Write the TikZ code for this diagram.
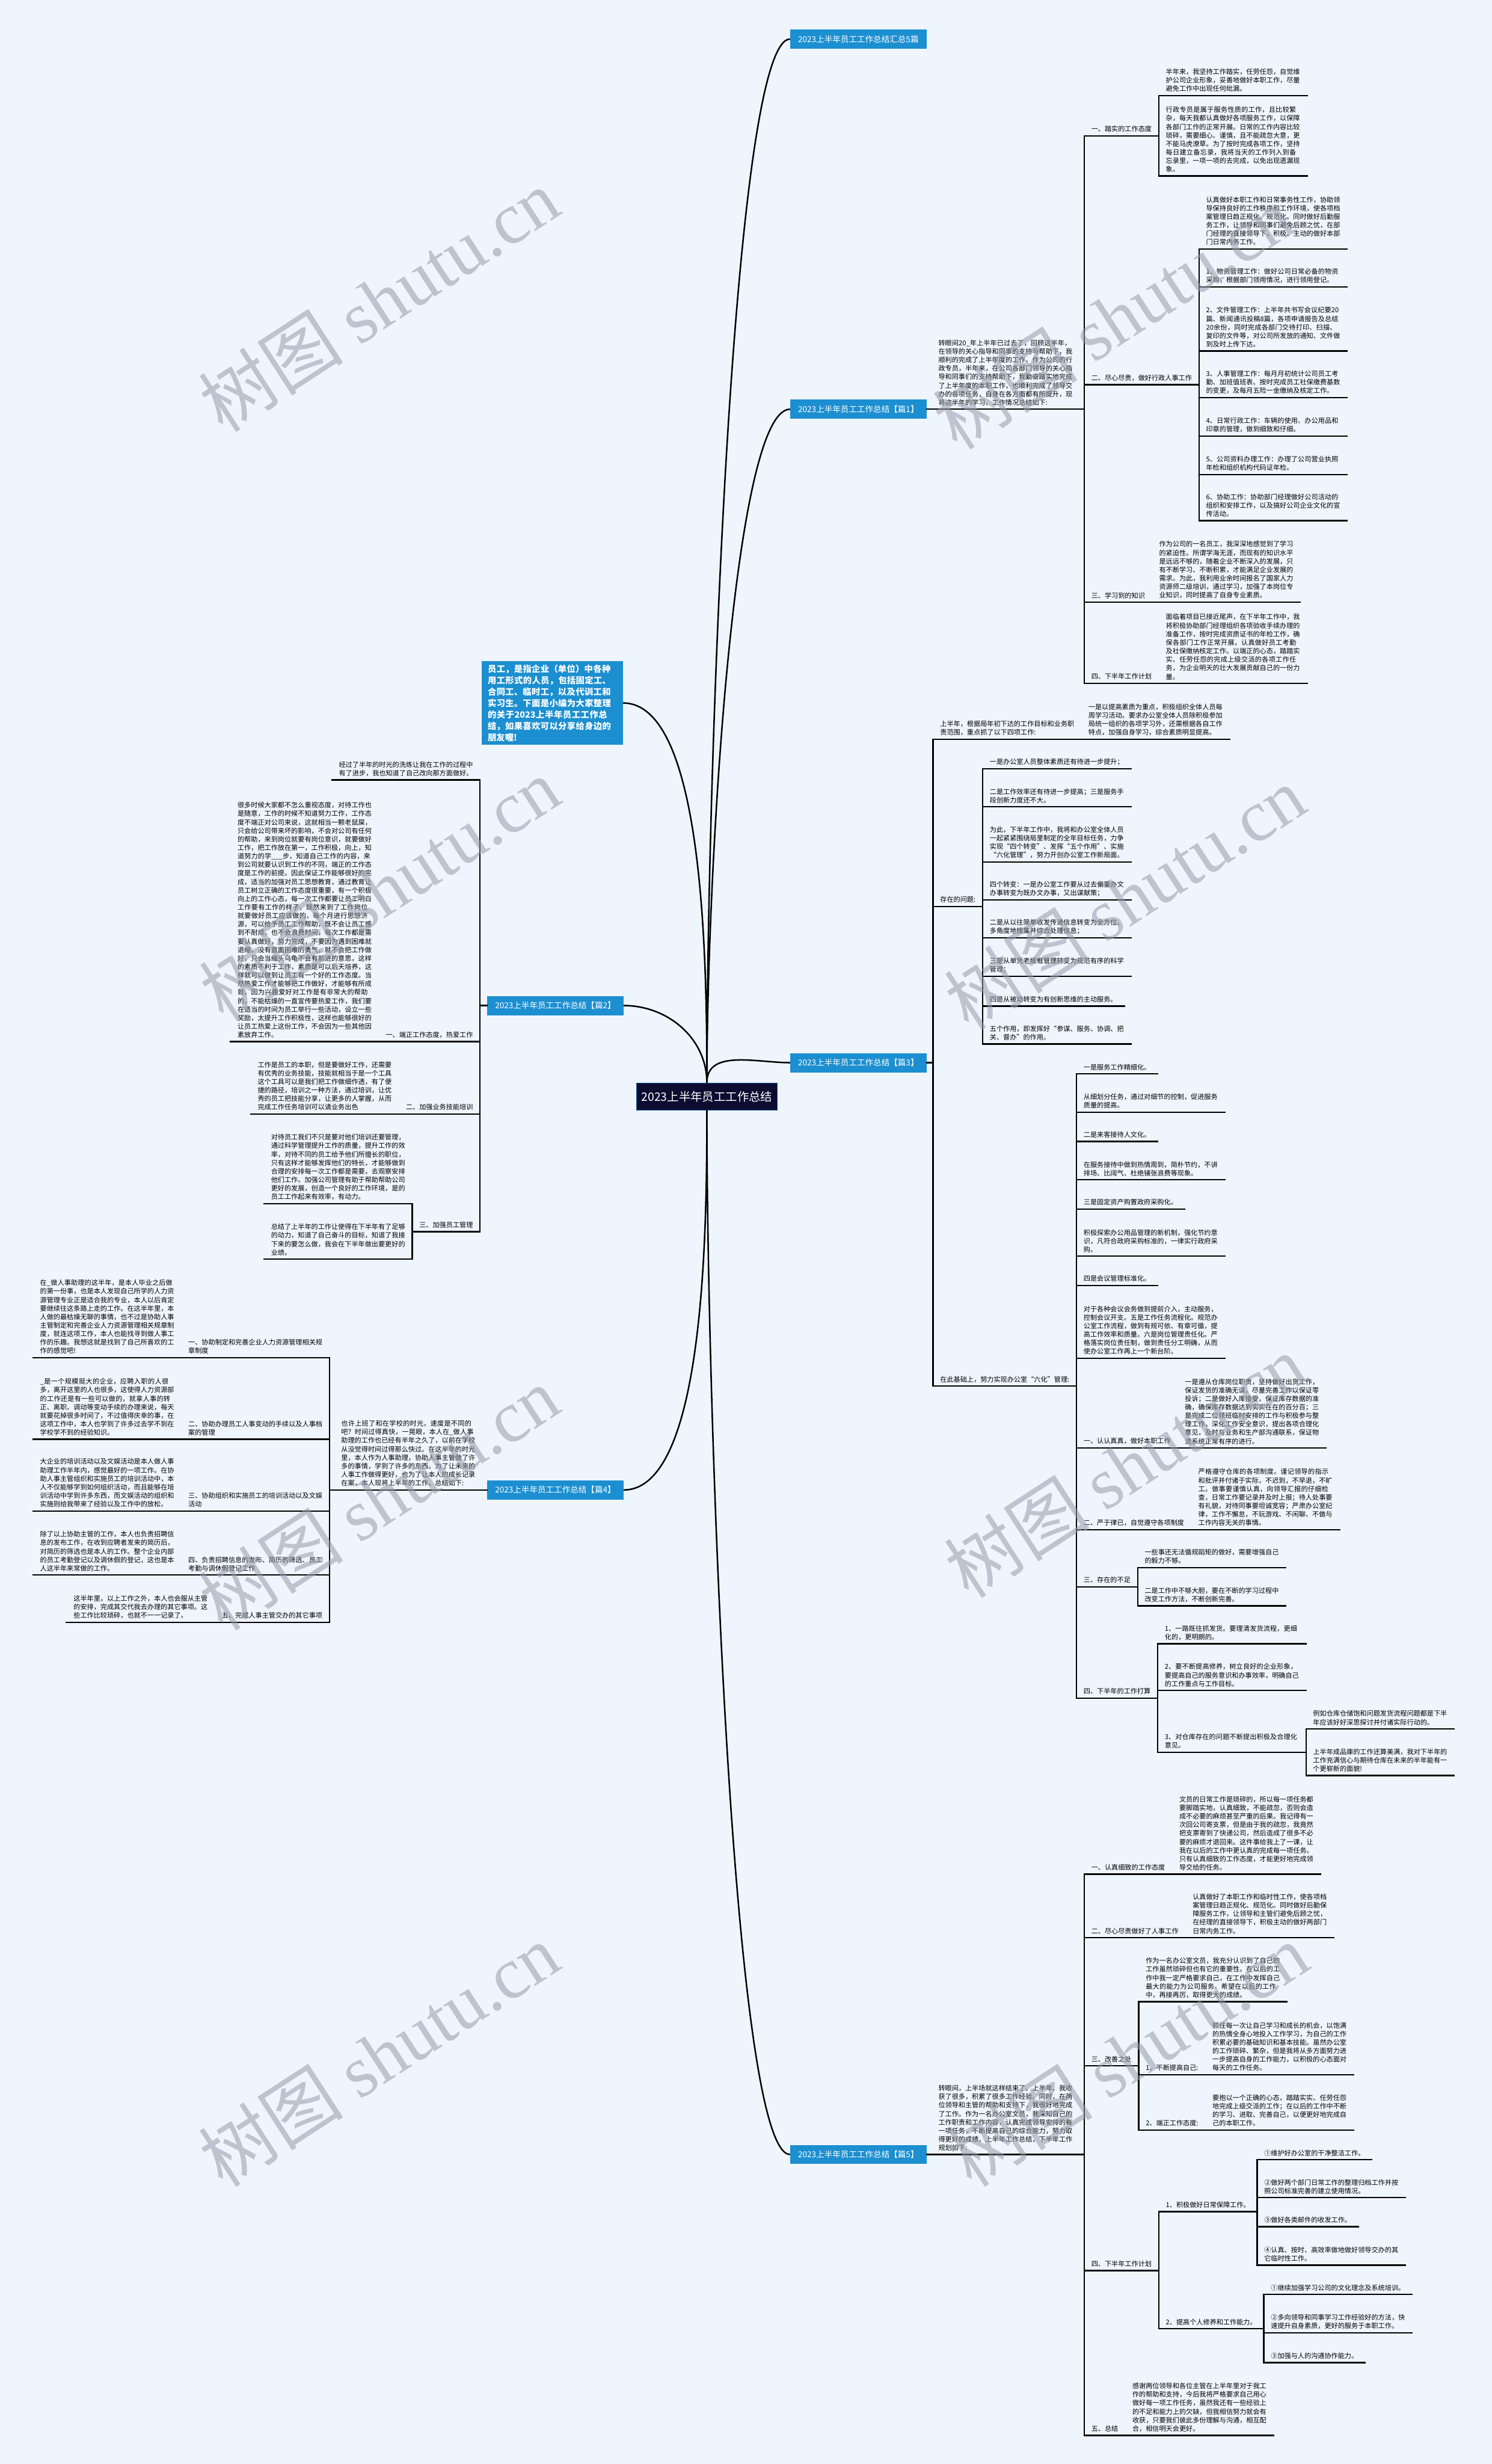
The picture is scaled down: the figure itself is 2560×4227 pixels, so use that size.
\documentclass[tikz,border=0pt]{standalone}
\usepackage{fontspec}
\setmainfont{Noto Sans CJK SC}
\newfontfamily\wmserif{Liberation Serif}
\XeTeXlinebreaklocale "zh"
\XeTeXlinebreakskip=0pt plus 1pt
\definecolor{bgblue}{RGB}{239,245,253}
\definecolor{topicblue}{RGB}{28,143,208}
\definecolor{rootnavy}{RGB}{12,12,48}
\definecolor{wmgray}{RGB}{150,156,170}
\tikzset{
    ul/.style={line width=2.4pt, black, line cap=rect},
    branch/.style={line width=2.6pt, black},
    root/.style={fill=rootnavy, draw=topicblue!60!rootnavy, line width=1pt, text=white,
        font=\fontsize{20}{23}\selectfont, minimum width=242pt, minimum height=46pt, inner sep=0pt},
    topic/.style={fill=topicblue, text=white, font=\fontsize{14}{17}\selectfont,
        minimum width=234pt, minimum height=33pt, inner sep=0pt},
    introbox/.style={fill=topicblue, text=white, font=\bfseries\fontsize{14.8}{19.6}\selectfont,
        text width=222pt, inner xsep=10pt, inner ysep=6pt, align=left},
    % text with a line under it
    headtxt/.style={font=\fontsize{11.5}{14.6}\selectfont, inner xsep=12pt, inner ysep=6pt, align=left,
        append after command={(\tikzlastnode.south west) edge[ul] (\tikzlastnode.south east)}},
    bodytxt/.style={headtxt, text width=230pt},
    wmark/.style={text=wmgray, opacity=.55, font=\fontsize{125}{125}\selectfont, rotate=33}
}
\begin{document}
\begin{tikzpicture}[x=1pt,y=1pt]
\fill[bgblue] (0,0) rectangle (2560,-4227);
\useasboundingbox (0,0) rectangle (2560,-4227);

% 中心与分支
\node[root] (root) at (1213,-1881) {2023上半年员工工作总结};
\node[topic] (top) at (1473,-67) {2023上半年员工工作总结汇总5篇};
\node[topic] (p1) at (1473,-702) {2023上半年员工工作总结【篇1】};
\node[introbox] (intro) at (948,-1206) {员工，是指企业（单位）中各种用工形式的人员，包括固定工、合同工、临时工，以及代训工和实习生。下面是小编为大家整理的关于2023上半年员工工作总结，如果喜欢可以分享给身边的朋友喔!};
\node[topic] (p2) at (953,-1725) {2023上半年员工工作总结【篇2】};
\node[topic] (p3) at (1473,-1823) {2023上半年员工工作总结【篇3】};
\node[topic] (p4) at (953,-2556) {2023上半年员工工作总结【篇4】};
\node[topic] (p5) at (1473,-3696) {2023上半年员工工作总结【篇5】};

\draw[branch] (root.north) .. controls +(0,500) and +(-100,0) .. (top.west);
\draw[branch] (root.north) .. controls +(0,330) and +(-100,0) .. (p1.west);
\draw[branch] (root.north) .. controls +(0,200) and +(140,0) .. (intro.east);
\draw[branch] (root.north) .. controls +(0,76) and +(76,0) .. (p2.east);
\draw[branch] (root.north) .. controls +(0,58) and +(-58,0) .. (p3.west);
\draw[branch] (root.south) .. controls +(0,-200) and +(140,0) .. (p4.east);
\draw[branch] (root.south) .. controls +(0,-500) and +(-100,0) .. (p5.west);

% 篇1
\node[bodytxt, inner xsep=20pt, anchor=south west] (p1i) at (p1.east) {转眼间20\_年上半年已过去了，回顾这半年，在领导的关心指导和同事的支持与帮助下，我顺利的完成了上半年度的工作。作为公司的行政专员，半年来，在公司各部门领导的关心指导和同事们的支持帮助下，我勤奋踏实地完成了上半年度的本职工作，也顺利完成了领导交办的各项任务，自身在各方面都有所提升，现将这半年的学习、工作情况总结如下:};
\node[headtxt, anchor=south west] (p1a) at (p1i.south east |- 0,-233) {一、踏实的工作态度};
\node[bodytxt, anchor=south west] (p1a1) at (p1a.south east |- 0,-164) {半年来，我坚持工作踏实，任劳任怨，自觉维护公司企业形象，妥善地做好本职工作，尽量避免工作中出现任何纰漏。};
\node[bodytxt, anchor=south west] (p1a2) at (p1a.south east |- 0,-302) {行政专员是属于服务性质的工作，且比较繁杂，每天我都认真做好各项服务工作，以保障各部门工作的正常开展。日常的工作内容比较琐碎，需要细心、谨慎，且不能疏忽大意，更不能马虎潦草。为了按时完成各项工作，坚持每日建立备忘录，我将当天的工作列入到备忘录里，一项一项的去完成，以免出现遗漏现象。};
\node[headtxt, anchor=south west] (p1b) at (p1i.south east |- 0,-660) {二、尽心尽责，做好行政人事工作};
\node[bodytxt, anchor=south west] (p1b1) at (p1b.south east |- 0,-427) {认真做好本职工作和日常事务性工作，协助领导保持良好的工作秩序和工作环境，使各项档案管理日趋正规化、规范化。同时做好后勤服务工作，让领导和同事们避免后顾之忧，在部门经理的直接领导下，积极、主动的做好本部门日常内务工作。};
\node[bodytxt, anchor=south west] (p1b2) at (p1b.south east |- 0,-492) {1、物资管理工作：做好公司日常必备的物资采购，根据部门领用情况，进行领用登记。};
\node[bodytxt, anchor=south west] (p1b3) at (p1b.south east |- 0,-602) {2、文件管理工作：上半年共书写会议纪要20篇、新闻通讯投稿8篇，各项申请报告及总结20余份，同时完成各部门交待打印、扫描、复印的文件等，对公司所发放的通知、文件做到及时上传下达。};
\node[bodytxt, anchor=south west] (p1b4) at (p1b.south east |- 0,-682) {3、人事管理工作：每月月初统计公司员工考勤、加班值班表、按时完成员工社保缴费基数的变更，及每月五险一金缴纳及核定工作。};
\node[bodytxt, anchor=south west] (p1b5) at (p1b.south east |- 0,-748) {4、日常行政工作：车辆的使用、办公用品和印章的管理，做到细致和仔细。};
\node[bodytxt, anchor=south west] (p1b6) at (p1b.south east |- 0,-814) {5、公司资料办理工作：办理了公司营业执照年检和组织机构代码证年检。};
\node[bodytxt, anchor=south west] (p1b7) at (p1b.south east |- 0,-893) {6、协助工作：协助部门经理做好公司活动的组织和安排工作，以及搞好公司企业文化的宣传活动。};
\node[headtxt, anchor=south west] (p1c) at (p1i.south east |- 0,-1033) {三、学习到的知识};
\node[bodytxt, anchor=south west] (p1c1) at (p1c.south east) {作为公司的一名员工，我深深地感觉到了学习的紧迫性。所谓学海无涯，而现有的知识水平是远远不够的，随着企业不断深入的发展，只有不断学习、不断积累，才能满足企业发展的需求。为此，我利用业余时间报名了国家人力资源师二级培训，通过学习，加强了本岗位专业知识，同时提高了自身专业素质。};
\node[headtxt, anchor=south west] (p1d) at (p1i.south east |- 0,-1172) {四、下半年工作计划};
\node[bodytxt, anchor=south west] (p1d1) at (p1d.south east) {面临着项目已接近尾声，在下半年工作中，我将积极协助部门经理组织各项验收手续办理的准备工作，按时完成资质证书的年检工作，确保各部门工作正常开展，认真做好员工考勤及社保缴纳核定工作。以端正的心态，踏踏实实、任劳任怨的完成上级交派的各项工作任务，为企业明天的壮大发展贡献自己的一份力量。};
\foreach \k in {p1a,p1b,p1c,p1d} \draw[ul] (p1i.south east) |- (\k.south west);
\foreach \k in {p1a1,p1a2} \draw[ul] (p1a.south east) |- (\k.south west);
\foreach \k in {p1b1,p1b2,p1b3,p1b4,p1b5,p1b6,p1b7} \draw[ul] (p1b.south east) |- (\k.south west);

% 篇2
\coordinate (p2s) at ([xshift=-12pt]p2.west);
\node[bodytxt, anchor=south east] (p2a) at (p2s |- 0,-1338) {经过了半年的时光的洗练让我在工作的过程中有了进步，我也知道了自己改向那方面做好。};
\node[headtxt, anchor=south east] (p2b) at (p2s |- 0,-1787) {一、端正工作态度，热爱工作};
\node[bodytxt, anchor=south east] (p2b1) at (p2b.south west) {很多时候大家都不怎么重视态度，对待工作也是随意，工作的时候不知道努力工作，工作态度不端正对公司来说，这就相当一颗老鼠屎，只会给公司带来坏的影响，不会对公司有任何的帮助，来到岗位就要有岗位意识，就要做好工作，把工作放在第一，工作积极，向上，知道努力的学\_\_\_步，知道自己工作的内容，来到公司就要认识到工作的不同，端正的工作态度是工作的前提。因此保证工作能够很好的完成，适当的加强对员工思想教育，通过教育让员工树立正确的工作态度很重要，有一个积极向上的工作心态，每一次工作都要让员工明白工作要有工作的样子，既然来到了工作岗位就要做好员工应该做的，每个月进行思想济源，可以给予员工工作帮助，既不会让员工感到不耐烦，也不会浪费时间，每次工作都是需要认真做好，努力完成，不要因为遇到困难就退缩，没有直面困难的勇气，就不会把工作做好，只会当缩头乌龟不会有前进的意思，这样的素质不利于工作，素质是可以后天培养，这样就可以做到让员工有一个好的工作态度。当然热爱工作才能够把工作做好，才能够有所成就，因为兴趣爱好对工作是有非常大的帮助的，不能枯燥的一直宣传要热爱工作，我们要在适当的时间为员工举行一些活动，设立一些奖励，太提升工作积极性，这样也能够很好的让员工热爱上这份工作，不会因为一些其他因素放弃工作。};
\node[headtxt, anchor=south east] (p2c) at (p2s |- 0,-1911) {二、加强业务技能培训};
\node[bodytxt, anchor=south east] (p2c1) at (p2c.south west) {工作是员工的本职，但是要做好工作，还需要有优秀的业务技能，技能就相当于是一个工具这个工具可以是我们把工作做细作透，有了便捷的路径，培训之一种方法，通过培训，让优秀的员工把技能分享，让更多的人掌握，从而完成工作任务培训可以请业务出色};
\node[headtxt, anchor=south east] (p2d) at (p2s |- 0,-2113) {三、加强员工管理};
\node[bodytxt, anchor=south east] (p2d1) at (p2d.south west |- 0,-2065) {对待员工我们不只是要对他们培训还要管理，通过科学管理提升工作的质量，提升工作的效率，对待不同的员工给予他们所擅长的职位，只有这样才能够发挥他们的特长，才能够做到合理的安排每一次工作都是需要，去观察安排他们工作。加强公司管理有助于帮助帮助公司更好的发展，创造一个良好的工作环境，是的员工工作起来有效率，有动力。};
\node[bodytxt, anchor=south east] (p2d2) at (p2d.south west |- 0,-2160) {总结了上半年的工作让使得在下半年有了足够的动力，知道了自己奋斗的目标，知道了我接下来的要怎么做，我会在下半年做出要更好的业绩。};
\draw[ul] (p2.west) -- (p2s);
\foreach \k in {p2a,p2b,p2c,p2d} \draw[ul] (p2s) |- (\k.south east);
\foreach \k in {p2d1,p2d2} \draw[ul] (p2d.south west) |- (\k.south east);

% 篇3
\coordinate (p3s) at ([xshift=11pt]p3.east);
\node[bodytxt, anchor=south west] (p3a) at (p3s |- 0,-1268) {上半年，根据局年初下达的工作目标和业务职责范围，重点抓了以下四项工作:};
\node[bodytxt, anchor=south west] (p3a1) at (p3a.south east) {一是以提高素质为重点，积极组织全体人员每周学习活动。要求办公室全体人员除积极参加局统一组织的各项学习外，还需根据各自工作特点，加强自身学习，综合素质明显提高。};
\node[headtxt, anchor=south west] (p3b) at (p3s |- 0,-1555) {存在的问题:};
\node[bodytxt, anchor=south west] (p3b1) at (p3b.south east |- 0,-1319) {一是办公室人员整体素质还有待进一步提升；};
\node[bodytxt, anchor=south west] (p3b2) at (p3b.south east |- 0,-1384) {二是工作效率还有待进一步提高；三是服务手段创新力度还不大。};
\node[bodytxt, anchor=south west] (p3b3) at (p3b.south east |- 0,-1479) {为此，下半年工作中，我将和办公室全体人员一起紧紧围绕局里制定的全年目标任务，力争实现“四个转变”、发挥“五个作用”、实施“六化管理”，努力开创办公室工作新局面。};
\node[bodytxt, anchor=south west] (p3b4) at (p3b.south east |- 0,-1544) {四个转变：一是办公室工作要从过去偏重办文办事转变为既办文办事，又出谋献策；};
\node[bodytxt, anchor=south west] (p3b5) at (p3b.south east |- 0,-1609) {二是从以往简单收发传递信息转变为全方位、多角度地搜集并综合处理信息；};
\node[bodytxt, anchor=south west] (p3b6) at (p3b.south east |- 0,-1675) {三是从单凭老框框管理转变为规范有序的科学管理；};
\node[headtxt, anchor=south west] (p3b7) at (p3b.south east |- 0,-1726) {四是从被动转变为有创新思维的主动服务。};
\node[bodytxt, anchor=south west] (p3b8) at (p3b.south east |- 0,-1791) {五个作用，即发挥好“参谋、服务、协调、把关、督办”的作用。};
\node[headtxt, anchor=south west] (p3c) at (p3s |- 0,-2378) {在此基础上，努力实现办公室“六化”管理:};
\node[headtxt, anchor=south west] (p3c1) at (p3c.south east |- 0,-1842) {一是服务工作精细化。};
\node[bodytxt, anchor=south west] (p3c2) at (p3c.south east |- 0,-1908) {从细划分任务，通过对细节的控制，促进服务质量的提高。};
\node[headtxt, anchor=south west] (p3c3) at (p3c.south east |- 0,-1958) {二是来客接待人文化。};
\node[bodytxt, anchor=south west] (p3c4) at (p3c.south east |- 0,-2024) {在服务接待中做到热情周到，简朴节约，不讲排场、比阔气、杜绝铺张浪费等现象。};
\node[headtxt, anchor=south west] (p3c5) at (p3c.south east |- 0,-2074) {三是固定资产购置政府采购化。};
\node[bodytxt, anchor=south west] (p3c6) at (p3c.south east |- 0,-2155) {积极探索办公用品管理的新机制，强化节约意识，凡符合政府采购标准的，一律实行政府采购。};
\node[headtxt, anchor=south west] (p3c7) at (p3c.south east |- 0,-2205) {四是会议管理标准化。};
\node[bodytxt, anchor=south west] (p3c8) at (p3c.south east |- 0,-2330) {对于各种会议会务做到提前介入，主动服务，控制会议开支。五是工作任务流程化。规范办公室工作流程，做到有规可依、有章可循，提高工作效率和质量。六是岗位管理责任化。严格落实岗位责任制，做到责任分工明确，从而使办公室工作再上一个新台阶。};
\node[headtxt, anchor=south west] (p3d) at (p3c.south east |- 0,-2484) {一、认认真真，做好本职工作};
\node[bodytxt, anchor=south west] (p3d1) at (p3d.south east) {一是遵从仓库岗位职责，坚持做好出货工作，保证发货的准确无误，尽量完善工作以保证零投诉；二是做好入库接受，保证库存数据的准确，确保库存数据达到实实在在的百分百；三是完成二位领班临时安排的工作与积极参与整理工作，深化工作安全意识，提出各项合理化意见，及时与业务和生产部沟通联系，保证物流系统正常有序的进行。};
\node[headtxt, anchor=south west] (p3e) at (p3c.south east |- 0,-2624) {二、严于律已，自觉遵守各项制度};
\node[bodytxt, anchor=south west] (p3e1) at (p3e.south east) {严格遵守仓库的各项制度。谨记领导的指示和批评并付诸于实际，不迟到，不早退，不旷工。做事要谨慎认真，向领导汇报的仔细检查，日常工作要记录并及时上报；待人处事要有礼貌，对待同事要坦诚宽容；严肃办公室纪律，工作不懈怠，不玩游戏、不闲聊、不做与工作内容无关的事情。};
\node[headtxt, anchor=south west] (p3f) at (p3c.south east |- 0,-2722) {三、存在的不足};
\node[bodytxt, anchor=south west] (p3f1) at (p3f.south east |- 0,-2689) {一些事还无法循规蹈矩的做好，需要增强自己的毅力不够。};
\node[bodytxt, anchor=south west] (p3f2) at (p3f.south east |- 0,-2755) {二是工作中不够大胆，要在不断的学习过程中改变工作方法，不断创新完善。};
\node[headtxt, anchor=south west] (p3g) at (p3c.south east |- 0,-2913) {四、下半年的工作打算};
\node[bodytxt, anchor=south west] (p3g1) at (p3g.south east |- 0,-2820) {1、一路既往抓发货。要理清发货流程，更细化的，更明朗的。};
\node[bodytxt, anchor=south west] (p3g2) at (p3g.south east |- 0,-2900) {2、要不断提高修养，树立良好的企业形象，要提高自己的服务意识和办事效率，明确自己的工作重点与工作目标。};
\node[bodytxt, anchor=south west] (p3g3) at (p3g.south east |- 0,-3006) {3、对仓库存在的问题不断提出积极及合理化意见。};
\node[bodytxt, anchor=south west] (p3g3a) at (p3g3.south east |- 0,-2966) {例如仓库仓储饱和问题发货流程问题都是下半年应该好好深思探讨并付诸实际行动的。};
\node[bodytxt, anchor=south west] (p3g3b) at (p3g3.south east |- 0,-3046) {上半年成品庫的工作还算美满，我对下半年的工作充满信心与期待仓库在未来的半年能有一个更崭新的面貌!};
\draw[ul] (p3.east) -- (p3s);
\foreach \k in {p3a,p3b,p3c} \draw[ul] (p3s) |- (\k.south west);
\foreach \k in {p3b1,p3b2,p3b3,p3b4,p3b5,p3b6,p3b7,p3b8} \draw[ul] (p3b.south east) |- (\k.south west);
\foreach \k in {p3c1,p3c2,p3c3,p3c4,p3c5,p3c6,p3c7,p3c8,p3d,p3e,p3f,p3g} \draw[ul] (p3c.south east) |- (\k.south west);
\foreach \k in {p3f1,p3f2} \draw[ul] (p3f.south east) |- (\k.south west);
\foreach \k in {p3g1,p3g2,p3g3} \draw[ul] (p3g.south east) |- (\k.south west);
\foreach \k in {p3g3a,p3g3b} \draw[ul] (p3g3.south east) |- (\k.south west);

% 篇4
\node[bodytxt, inner xsep=20pt, anchor=south east] (p4i) at (p4.west) {也许上班了和在学校的时光，速度是不同的吧？时间过得真快，一晃眼，本人在\_做人事助理的工作也已经有半年之久了，以前在学校从没觉得时间过得那么快过。在这半年的时光里，本人作为人事助理，协助人事主管做了许多的事情，学到了许多的东西。为了让未来的人事工作做得更好，也为了让本人的成长记录在案，本人现将上半年的工作，总结如下:};
\node[bodytxt, anchor=south east] (p4a) at (p4i.south west |- 0,-2329) {一、协助制定和完善企业人力资源管理相关规章制度};
\node[bodytxt, anchor=south east] (p4a1) at (p4a.south west) {在\_做人事助理的这半年，是本人毕业之后做的第一份事，也是本人发现自己所学的人力资源管理专业正是适合我的专业，本人以后肯定要继续往这条路上走的工作。在这半年里，本人做的最枯燥无聊的事情，也不过是协助人事主管制定和完善企业人力资源管理相关规章制度，就连这项工作，本人也能找寻到做人事工作的乐趣。我想这就是找到了自己所喜欢的工作的感觉吧!};
\node[bodytxt, anchor=south east] (p4b) at (p4i.south west |- 0,-2469) {二、协助办理员工人事变动的手续以及人事档案的管理};
\node[bodytxt, anchor=south east] (p4b1) at (p4b.south west) {\_是一个规模挺大的企业，应聘入职的人很多，离开这里的人也很多，这使得人力资源部的工作还是有一些可以做的，就拿人事的转正、离职、调动等变动手续的办理来说，每天就要花掉很多时间了，不过值得庆幸的事，在这项工作中，本人也学到了许多过去学不到在学校学不到的经验知识。};
\node[bodytxt, anchor=south east] (p4c) at (p4i.south west |- 0,-2592) {三、协助组织和实施员工的培训活动以及文娱活动};
\node[bodytxt, anchor=south east] (p4c1) at (p4c.south west) {大企业的培训活动以及文娱活动是本人做人事助理工作半年内，感觉最好的一项工作。在协助人事主管组织和实施员工的培训活动中，本人不仅能够学到如何组织活动，而且能够在培训活动中学到许多东西，而文娱活动的组织和实施则给我带来了经验以及工作中的放松。};
\node[bodytxt, anchor=south east] (p4d) at (p4i.south west |- 0,-2702) {四、负责招聘信息的发布、简历的筛选、员工考勤与调休假登记工作};
\node[bodytxt, anchor=south east] (p4d1) at (p4d.south west) {除了以上协助主管的工作，本人也负责招聘信息的发布工作，在收到应聘者发来的简历后，对简历的筛选也是本人的工作。整个企业内部的员工考勤登记以及调休假的登记，这也是本人这半年来常做的工作。};
\node[headtxt, anchor=south east] (p4e) at (p4i.south west |- 0,-2783) {五、完成人事主管交办的其它事项};
\node[bodytxt, anchor=south east] (p4e1) at (p4e.south west) {这半年里，以上工作之外，本人也会服从主管的安排，完成其交代我去办理的其它事项。这些工作比较琐碎，也就不一一记录了。};
\foreach \k in {p4a,p4b,p4c,p4d,p4e} \draw[ul] (p4i.south west) |- (\k.south east);

% 篇5
\node[bodytxt, inner xsep=20pt, anchor=south west] (p5i) at (p5.east) {转眼间，上半场就这样结束了。上半年，我收获了很多，积累了很多工作经验。同时，在两位领导和主管的帮助和支持下，我很好地完成了工作。作为一名办公室文员，我深知自己的工作职责和工作内容，认真完成领导安排的每一项任务，不断提高自己的综合能力，努力取得更好的成绩。上半年工作总结，下半年工作规划如下:};
\node[headtxt, anchor=south west] (p5a) at (p5i.south east |- 0,-3215) {一、认真细致的工作态度};
\node[bodytxt, anchor=south west] (p5a1) at (p5a.south east) {文员的日常工作是琐碎的，所以每一项任务都要脚踏实地，认真细致，不能疏忽，否则会造成不必要的麻烦甚至严重的后果。我记得有一次回公司寄支票，但是由于我的疏忽，我竟然把支票寄到了快递公司，然后造成了很多不必要的麻烦才退回来。这件事给我上了一课，让我在以后的工作中更认真的完成每一项任务。只有认真细致的工作态度，才能更好地完成领导交给的任务。};
\node[headtxt, anchor=south west] (p5b) at (p5i.south east |- 0,-3324) {二、尽心尽责做好了人事工作};
\node[bodytxt, anchor=south west] (p5b1) at (p5b.south east) {认真做好了本职工作和临时性工作，使各项档案管理日趋正规化、规范化。同时做好后勤保障服务工作，让领导和主管们避免后顾之忧，在经理的直接领导下，积极主动的做好两部门日常内务工作。};
\node[headtxt, anchor=south west] (p5c) at (p5i.south east |- 0,-3544) {三、改善之处};
\node[bodytxt, anchor=south west] (p5c1) at (p5c.south east |- 0,-3434) {作为一名办公室文员，我充分认识到了自己的工作虽然琐碎但也有它的重要性。在以后的工作中我一定严格要求自己，在工作中发挥自己最大的能力为公司服务。希望在以后的工作中，再接再厉，取得更大的成绩。};
\node[headtxt, anchor=south west] (p5c2) at (p5c.south east |- 0,-3559) {1、不断提高自己:};
\node[bodytxt, anchor=south west] (p5c2a) at (p5c2.south east) {抓住每一次让自己学习和成长的机会，以饱满的热情全身心地投入工作学习，为自己的工作积累必要的基础知识和基本技能。虽然办公室的工作琐碎、繁杂，但是我将从多方面努力进一步提高自身的工作能力，以积极的心态面对每天的工作任务。};
\node[headtxt, anchor=south west] (p5c3) at (p5c.south east |- 0,-3654) {2、端正工作态度:};
\node[bodytxt, anchor=south west] (p5c3a) at (p5c3.south east) {要抱以一个正确的心态，踏踏实实、任劳任怨地完成上级交派的工作；在以后的工作中不断的学习、进取、完善自己，以便更好地完成自己的本职工作。};
\node[headtxt, anchor=south west] (p5d) at (p5i.south east |- 0,-3895) {四、下半年工作计划};
\node[headtxt, anchor=south west] (p5d1) at (p5d.south east |- 0,-3794) {1、积极做好日常保障工作。};
\node[headtxt, anchor=south west] (p5d1a) at (p5d1.south east |- 0,-3705) {①维护好办公室的干净整洁工作。};
\node[bodytxt, anchor=south west] (p5d1b) at (p5d1.south east |- 0,-3770) {②做好两个部门日常工作的整理归档工作并按照公司标准完善的建立使用情况。};
\node[headtxt, anchor=south west] (p5d1c) at (p5d1.south east |- 0,-3820) {③做好各类邮件的收发工作。};
\node[bodytxt, anchor=south west] (p5d1d) at (p5d1.south east |- 0,-3886) {④认真、按时、高效率做地做好领导交办的其它临时性工作。};
\node[headtxt, anchor=south west] (p5d2) at (p5d.south east |- 0,-3995) {2、提高个人修养和工作能力。};
\node[headtxt, anchor=south west] (p5d2a) at (p5d2.south east |- 0,-3936) {①继续加强学习公司的文化理念及系统培训。};
\node[bodytxt, anchor=south west] (p5d2b) at (p5d2.south east |- 0,-4002) {②多向领导和同事学习工作经验好的方法，快速提升自身素质，更好的服务于本职工作。};
\node[headtxt, anchor=south west] (p5d2c) at (p5d2.south east |- 0,-4053) {③加强与人的沟通协作能力。};
\node[headtxt, anchor=south west] (p5e) at (p5i.south east |- 0,-4178) {五、总结};
\node[bodytxt, anchor=south west] (p5e1) at (p5e.south east) {感谢两位领导和各位主管在上半年里对于我工作的帮助和支持，今后我将严格要求自己用心做好每一项工作任务，虽然我还有一些经验上的不足和能力上的欠缺，但我相信努力就会有收获，只要我们彼此多份理解与沟通，相互配合，相信明天会更好。};
\foreach \k in {p5a,p5b,p5c,p5d,p5e} \draw[ul] (p5i.south east) |- (\k.south west);
\foreach \k in {p5c1,p5c2,p5c3} \draw[ul] (p5c.south east) |- (\k.south west);
\foreach \k in {p5d1,p5d2} \draw[ul] (p5d.south east) |- (\k.south west);
\foreach \k in {p5d1a,p5d1b,p5d1c,p5d1d} \draw[ul] (p5d1.south east) |- (\k.south west);
\foreach \k in {p5d2a,p5d2b,p5d2c} \draw[ul] (p5d2.south east) |- (\k.south west);

% 水印
\foreach \wx/\wy in {650/515, 1910/545, 651/1525, 1930/1540, 650/2570, 1930/2515, 650/3525, 1935/3525}
    \node[wmark] at (\wx,-\wy) {树图 {\wmserif shutu.cn}};
\end{tikzpicture}
\end{document}
